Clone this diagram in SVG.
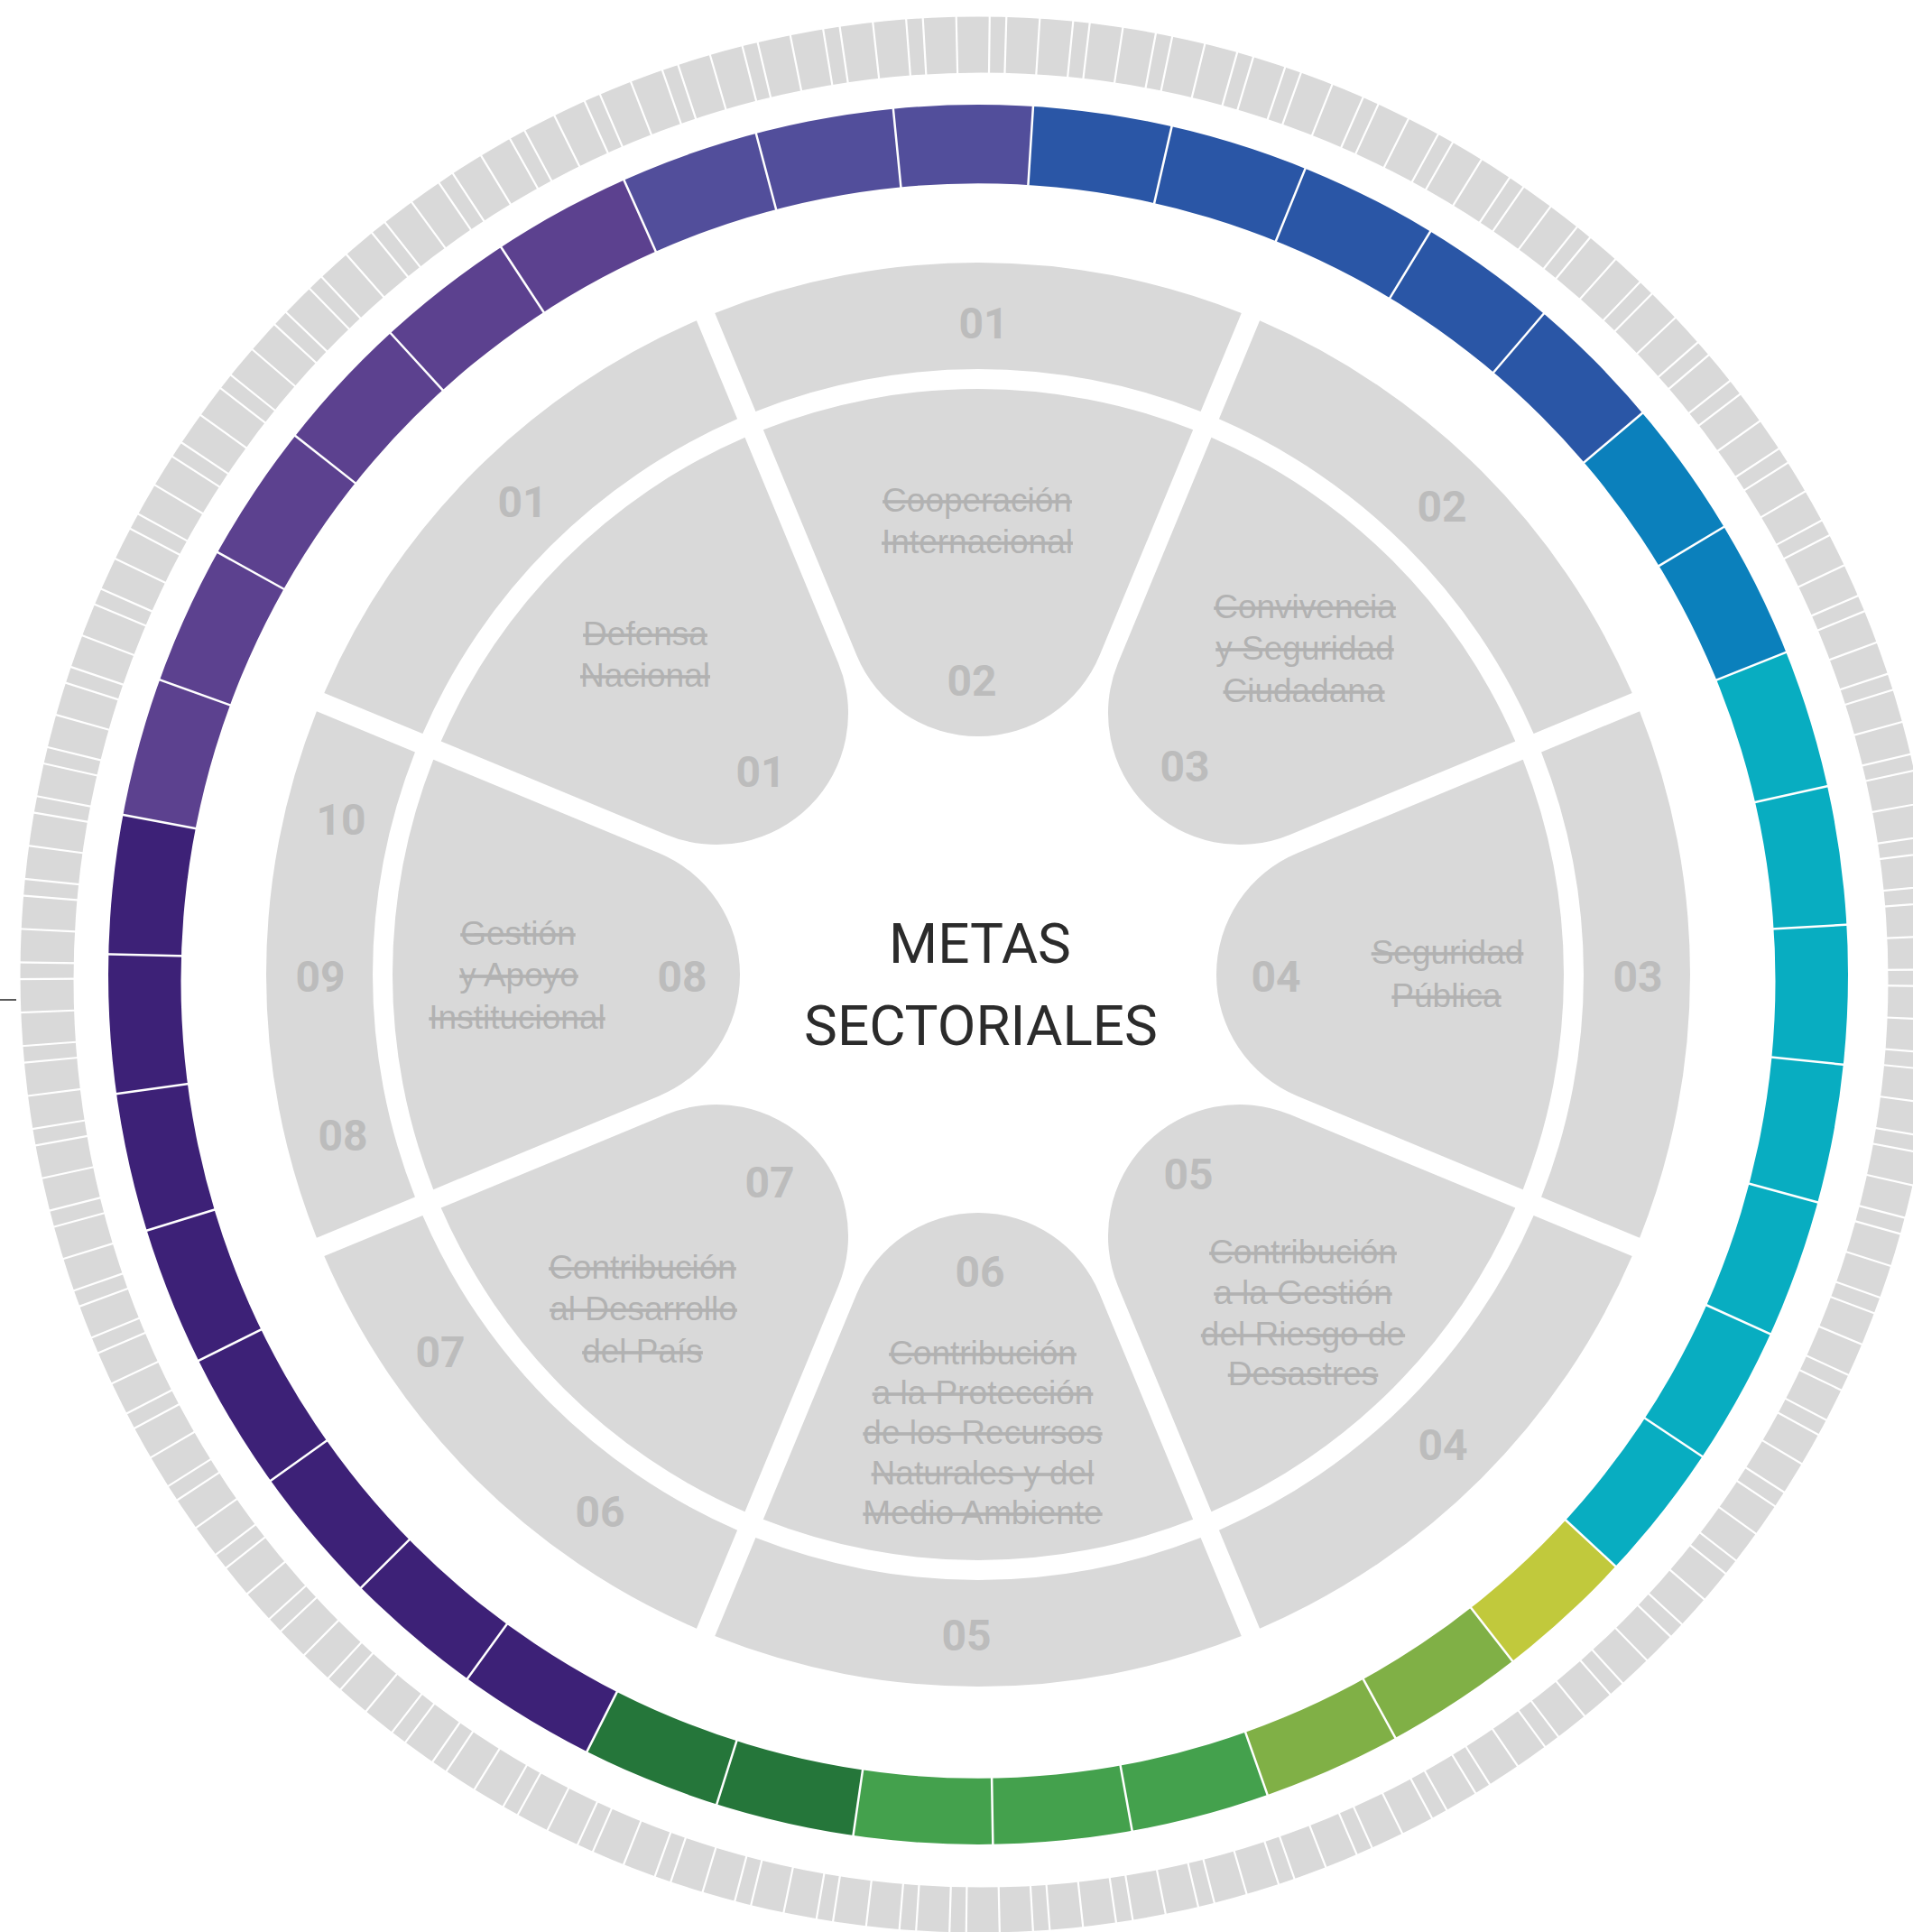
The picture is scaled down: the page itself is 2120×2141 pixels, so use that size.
<svg xmlns="http://www.w3.org/2000/svg" width="2120" height="2141" viewBox="0 0 2120 2141">
<style>
.g{fill:#D9D9D9}
.num{font-family:Roboto,'Liberation Sans',sans-serif;font-weight:700;font-size:48px;fill:#BCBCBC;text-anchor:middle}
.lbl{font-family:'Liberation Sans',Arial,sans-serif;font-size:37px;fill:#B2B2B2;text-anchor:middle;text-decoration:line-through}
.title{font-family:Roboto,'Liberation Sans',sans-serif;font-size:62px;fill:#2B2B2B;text-anchor:middle}
.seg{fill:none;stroke-width:100}
</style>
<defs>
<path id="petal" d="M -238.16 -603.72 A 649 649 0 0 1 238.16 -603.72 L 134.7 -354 A 145.8 145.8 0 0 1 -134.7 -354 Z"/>
<path id="band" d="M -291.75 -733.08 A 789 789 0 0 1 291.75 -733.08 L 246.58 -624.05 A 671 671 0 0 0 -246.58 -624.05 Z"/>
<clipPath id="ringclip"><path clip-rule="evenodd" d="M 120 1080 a 964 964 0 1 0 1928 0 a 964 964 0 1 0 -1928 0 Z M 200.5 1087 a 883.5 883.5 0 1 0 1767 0 a 883.5 883.5 0 1 0 -1767 0 Z"/></clipPath>
</defs>
<rect width="2120" height="2141" fill="#FFFFFF"/>

<g id="ring-indicadores">
<path class="g" fill-rule="evenodd" d="M 22.5 1080 a 1061.5 1061.5 0 1 0 2123 0 a 1061.5 1061.5 0 1 0 -2123 0 Z M 81.5 1086 a 1005.5 1005.5 0 1 0 2011 0 a 1005.5 1005.5 0 1 0 -2011 0 Z"/>
<circle cx="1084" cy="1080" r="1033" fill="none" stroke="#FFFFFF" stroke-width="74" stroke-dasharray="2.2 33.86 2.2 33.86 2.2 15.83 2.2 33.86 2.2 33.86 2.2 15.83 2.2 33.86 2.2 33.86 2.2 15.83 2.2 33.86 2.2 33.86 2.2 15.83 2.2 33.86 2.2 33.86 2.2 15.83 2.2 33.86 2.2 33.86 2.2 15.83 2.2 33.86 2.2 15.83" transform="rotate(-103.37 1084 1080)"/>
</g>

<g id="ring-metas">
<g clip-path="url(#ringclip)">
<circle class="seg" cx="1084" cy="1080" r="924" stroke="#524E9B" stroke-dasharray="447.6 6000" transform="rotate(245.94 1084 1080)"/>
<circle class="seg" cx="1084" cy="1080" r="924" stroke="#2A56A6" stroke-dasharray="745.3 6000" transform="rotate(-86.37 1084 1080)"/>
<circle class="seg" cx="1084" cy="1080" r="924" stroke="#0B80BC" stroke-dasharray="298.7 6000" transform="rotate(-40.22 1084 1080)"/>
<circle class="seg" cx="1084" cy="1080" r="924" stroke="#08ADC1" stroke-dasharray="1043 6000" transform="rotate(-21.75 1084 1080)"/>
<circle class="seg" cx="1084" cy="1080" r="924" stroke="#C1C93C" stroke-dasharray="149.9 6000" transform="rotate(42.86 1084 1080)"/>
<circle class="seg" cx="1084" cy="1080" r="924" stroke="#80B046" stroke-dasharray="298.7 6000" transform="rotate(52.09 1084 1080)"/>
<circle class="seg" cx="1084" cy="1080" r="924" stroke="#44A14D" stroke-dasharray="447.6 6000" transform="rotate(70.55 1084 1080)"/>
<circle class="seg" cx="1084" cy="1080" r="924" stroke="#25763A" stroke-dasharray="298.7 6000" transform="rotate(98.25 1084 1080)"/>
<circle class="seg" cx="1084" cy="1080" r="924" stroke="#3D2177" stroke-dasharray="1191.9 6000" transform="rotate(116.71 1084 1080)"/>
<circle class="seg" cx="1084" cy="1080" r="924" stroke="#5C418F" stroke-dasharray="894.2 6000" transform="rotate(190.55 1084 1080)"/>
</g>
<circle cx="1084" cy="1080" r="924" fill="none" stroke="#FFFFFF" stroke-width="96" stroke-dasharray="2.5 146.3632" transform="rotate(-95.68 1084 1080)"/>
</g>

<g id="sector-01"><use href="#band" class="g" transform="translate(1084 1080)"/><text class="num" x="1090" y="375">01</text></g>
<g id="sector-02"><use href="#band" class="g" transform="translate(1084 1080) rotate(45)"/><text class="num" x="1598" y="578">02</text></g>
<g id="sector-03"><use href="#band" class="g" transform="translate(1084 1080) rotate(90)"/><text class="num" x="1815" y="1099">03</text></g>
<g id="sector-04"><use href="#band" class="g" transform="translate(1084 1080) rotate(135)"/><text class="num" x="1599" y="1618">04</text></g>
<g id="sector-05"><use href="#band" class="g" transform="translate(1084 1080) rotate(180)"/><text class="num" x="1071" y="1829">05</text></g>
<g id="sector-06-07"><use href="#band" class="g" transform="translate(1084 1080) rotate(225)"/><text class="num" x="488" y="1515">07</text><text class="num" x="665" y="1692">06</text></g>
<g id="sector-08-10"><use href="#band" class="g" transform="translate(1084 1080) rotate(270)"/><text class="num" x="378" y="925">10</text><text class="num" x="355" y="1099">09</text><text class="num" x="380" y="1275">08</text></g>
<g id="sector-01b"><use href="#band" class="g" transform="translate(1084 1080) rotate(315)"/><text class="num" x="579" y="573">01</text></g>

<g id="meta-01"><use href="#petal" class="g" transform="translate(1084 1080) rotate(315)"/>
<text class="lbl" x="715" y="715">Defensa</text><text class="lbl" x="715" y="761">Nacional</text>
<text class="num" x="843" y="872">01</text></g>
<g id="meta-02"><use href="#petal" class="g" transform="translate(1084 1080)"/>
<text class="lbl" x="1083" y="567">Cooperación</text><text class="lbl" x="1083" y="613">Internacional</text>
<text class="num" x="1077" y="771">02</text></g>
<g id="meta-03"><use href="#petal" class="g" transform="translate(1084 1080) rotate(45)"/>
<text class="lbl" x="1446" y="685">Convivencia</text><text class="lbl" x="1446" y="731">y Seguridad</text><text class="lbl" x="1445" y="778">Ciudadana</text>
<text class="num" x="1313" y="866">03</text></g>
<g id="meta-04"><use href="#petal" class="g" transform="translate(1084 1080) rotate(90)"/>
<text class="lbl" x="1604" y="1068">Seguridad</text><text class="lbl" x="1603" y="1116">Pública</text>
<text class="num" x="1414" y="1099">04</text></g>
<g id="meta-05"><use href="#petal" class="g" transform="translate(1084 1080) rotate(135)"/>
<text class="lbl" x="1444" y="1400">Contribución</text><text class="lbl" x="1444" y="1445">a la Gestión</text><text class="lbl" x="1444" y="1491">del Riesgo de</text><text class="lbl" x="1444" y="1535">Desastres</text>
<text class="num" x="1317" y="1318">05</text></g>
<g id="meta-06"><use href="#petal" class="g" transform="translate(1084 1080) rotate(180)"/>
<text class="lbl" x="1089" y="1512">Contribución</text><text class="lbl" x="1089" y="1556">a la Protección</text><text class="lbl" x="1089" y="1600">de los Recursos</text><text class="lbl" x="1089" y="1645">Naturales y del</text><text class="lbl" x="1089" y="1689">Medio Ambiente</text>
<text class="num" x="1086" y="1426">06</text></g>
<g id="meta-07"><use href="#petal" class="g" transform="translate(1084 1080) rotate(225)"/>
<text class="lbl" x="712" y="1417">Contribución</text><text class="lbl" x="713" y="1463">al Desarrollo</text><text class="lbl" x="712" y="1510">del País</text>
<text class="num" x="853" y="1327">07</text></g>
<g id="meta-08"><use href="#petal" class="g" transform="translate(1084 1080) rotate(270)"/>
<text class="lbl" x="574" y="1047">Gestión</text><text class="lbl" x="575" y="1093">y Apoyo</text><text class="lbl" x="573" y="1140">Institucional</text>
<text class="num" x="756" y="1099">08</text></g>

<g id="titulo">
<text class="title" x="1086" y="1067">METAS</text>
<text class="title" x="1087" y="1158">SECTORIALES</text>
</g>

<g id="marca"><line x1="0" y1="1108" x2="18" y2="1108" stroke="#333333" stroke-width="1.6"/></g>
</svg>
